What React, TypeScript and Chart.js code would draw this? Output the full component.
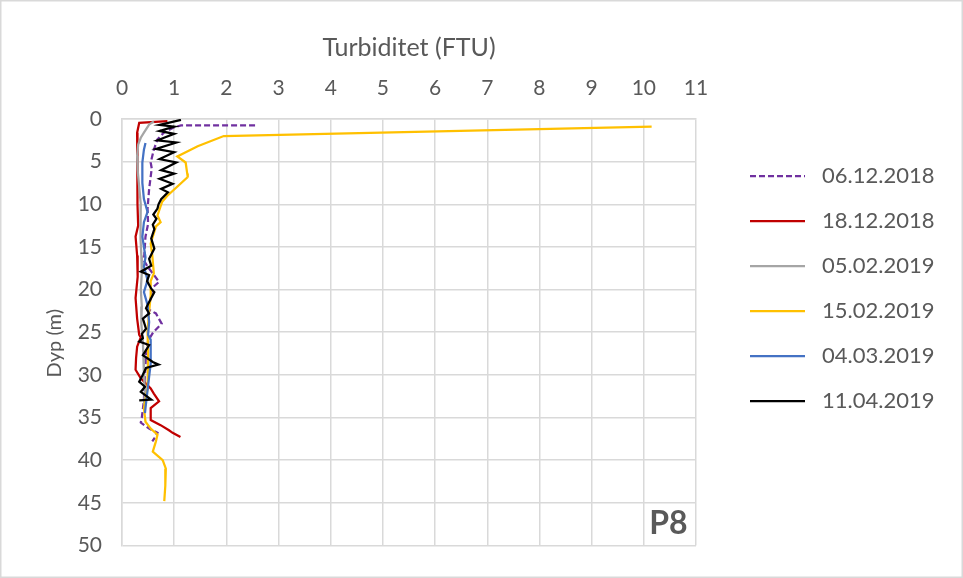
import { useEffect, useRef } from "react";
import { Chart, registerables } from "chart.js";

Chart.register(...registerables);

const FONT = "Lato, 'Open Sans', sans-serif";
const TEXT = "#595959";
const GRID = "#d9d9d9";

const xTitle = "Turbiditet (FTU)";
const yTitle = "Dyp (m)";
const stationLabel = "P8";

const seriesLabels = ["06.12.2018", "18.12.2018", "05.02.2019", "15.02.2019", "04.03.2019", "11.04.2019"];
const seriesColors = ["#7030a0", "#c00000", "#a5a5a5", "#ffc000", "#4472c4", "#000000"];

// 06.12.2018
const turb0612 = [2.55, 1.13, 0.97, 0.8, 0.68, 0.61, 0.55, 0.57, 0.52, 0.49, 0.5, 0.45, 0.42, 0.49, 0.71, 0.58, 0.55, 0.5, 0.65, 0.76, 0.6, 0.5, 0.46, 0.45, 0.43, 0.42, 0.38, 0.36, 0.52, 0.68, 0.65, 0.58];
const depth0612 = [0.75, 0.75, 1.05, 1.6, 2.4, 3.6, 5.1, 5.8, 8.2, 10.5, 12.3, 13.8, 16.6, 17.3, 19.1, 19.8, 21, 22.3, 22.8, 24, 25, 26, 27.5, 29, 31, 33, 35, 35.6, 36.3, 36.8, 37.2, 37.8];

// 18.12.2018
const turb1812 = [0.87, 0.33, 0.29, 0.29, 0.3, 0.3, 0.31, 0.26, 0.29, 0.3, 0.26, 0.29, 0.33, 0.36, 0.29, 0.27, 0.26, 0.36, 0.55, 0.61, 0.71, 0.55, 0.55, 0.74, 0.9, 0.97, 1.12];
const depth1812 = [0.25, 0.45, 1.6, 4, 7, 10, 12.5, 13.8, 16, 18.5, 21, 23.4, 25.3, 25.6, 26.7, 28, 29.4, 30.4, 31.6, 32.2, 33.1, 33.9, 35.3, 35.9, 36.5, 36.8, 37.3];

// 05.02.2019
const turb0502 = [0.61, 0.52, 0.42, 0.36, 0.31, 0.29, 0.3, 0.33, 0.36, 0.36, 0.35, 0.37, 0.38, 0.36, 0.38, 0.37, 0.4, 0.41, 0.42, 0.44, 0.42];
const depth0502 = [0.27, 0.66, 1.6, 2.2, 3, 4.3, 6, 8, 10, 12, 14, 16, 18, 20, 22, 24, 26, 28, 30, 32, 33.5];

// 15.02.2019
const turb1502 = [10.15, 1.95, 1.45, 1.06, 1.22, 1.25, 1.26, 0.87, 0.77, 0.68, 0.74, 0.65, 0.55, 0.58, 0.61, 0.55, 0.55, 0.52, 0.49, 0.5, 0.49, 0.42, 0.45, 0.55, 0.68, 0.65, 0.59, 0.78, 0.84, 0.83, 0.81];
const depth1502 = [0.9, 2.0, 3.2, 4.4, 5.1, 6.4, 6.8, 9, 9.7, 11.3, 12.1, 12.6, 14.6, 16, 18.1, 19, 20.7, 22.6, 24.9, 27.7, 31.6, 33.9, 35.5, 36.3, 37, 37.8, 39, 40, 41, 43, 44.8];

// 04.03.2019
const turb0403 = [0.45, 0.42, 0.39, 0.39, 0.42, 0.49, 0.42, 0.39, 0.45, 0.42, 0.49, 0.42, 0.49, 0.52, 0.5, 0.55, 0.55, 0.52, 0.49, 0.45, 0.44];
const depth0403 = [2.8, 3.6, 5.1, 7.5, 9.4, 10.9, 12.1, 13.8, 16.2, 17.3, 18.9, 20.3, 21.8, 23.8, 25.3, 25.9, 28.7, 30.2, 31.8, 33.9, 34.5];

// 11.04.2019
const turb1104 = [1.13, 0.72, 1.0, 0.72, 1.0, 0.68, 1.04, 0.65, 1.0, 0.72, 1.04, 0.75, 1.0, 0.72, 0.97, 0.75, 0.88, 0.75, 0.7, 0.68, 0.6, 0.66, 0.59, 0.62, 0.56, 0.62, 0.52, 0.56, 0.36, 0.52, 0.48, 0.56, 0.62, 0.56, 0.46, 0.52, 0.4, 0.46, 0.38, 0.4, 0.33, 0.52, 0.4, 0.59, 0.7, 0.46, 0.4, 0.33, 0.44, 0.36, 0.56, 0.33];
const depth1104 = [0.1, 0.7, 0.9, 1.4, 1.75, 2.5, 2.75, 3.5, 3.9, 4.7, 5.1, 6.0, 6.4, 7.0, 7.6, 8.2, 8.6, 9.4, 10.0, 10.5, 11.2, 11.7, 12.4, 12.9, 14.0, 15.2, 16.4, 17.2, 17.9, 18.3, 19.0, 19.9, 20.3, 21.0, 22.2, 22.8, 23.4, 24.6, 25.2, 25.7, 26.1, 26.5, 27.7, 28.5, 28.8, 29.2, 30.0, 30.8, 31.4, 32.0, 32.9, 33.0];

const seriesTurb = [turb0612, turb1812, turb0502, turb1502, turb0403, turb1104];
const seriesDepth = [depth0612, depth1812, depth0502, depth1502, depth0403, depth1104];

const xMin = 0;
const xMax = 11;
const xStep = 1;
const yMin = 0;
const yMax = 50;
const yStep = 5;

export default function App() {
  const ref = useRef<HTMLCanvasElement | null>(null);

  useEffect(() => {
    document.body.style.margin = "0";
    const canvas = ref.current;
    if (!canvas) return;

    const datasets = seriesLabels.map((label, i) => ({
      label,
      data: seriesTurb[i].map((t, j) => ({ x: t, y: seriesDepth[i][j] })),
      borderColor: seriesColors[i],
      backgroundColor: seriesColors[i],
      borderWidth: 2.25,
      borderDash: i === 0 ? [6, 3] : [],
      showLine: true,
      pointRadius: 0,
      pointHoverRadius: 0,
      tension: 0,
      order: seriesLabels.length - i,
    }));

    const frame = {
      id: "frame",
      beforeDraw(chart: any) {
        const { ctx, width, height } = chart;
        ctx.save();
        ctx.fillStyle = "#ffffff";
        ctx.fillRect(0, 0, width, height);
        ctx.strokeStyle = GRID;
        ctx.lineWidth = 1.5;
        ctx.strokeRect(0.75, 0.75, width - 1.5, height - 1.5);
        ctx.restore();
      },
    };

    const extras = {
      id: "extras",
      afterDraw(chart: any) {
        const { ctx, chartArea } = chart;
        ctx.save();
        // y-axis title
        ctx.fillStyle = TEXT;
        ctx.font = `20px ${FONT}`;
        ctx.textAlign = "center";
        ctx.textBaseline = "middle";
        ctx.translate(chartArea.left - 67, (chartArea.top + chartArea.bottom) / 2 + 11);
        ctx.rotate(-Math.PI / 2);
        ctx.fillText(yTitle, 0, 0);
        ctx.setTransform(1, 0, 0, 1, 0, 0);
        // legend
        const lx = chartArea.right + 54;
        const tx = chartArea.right + 126;
        seriesLabels.forEach((label, i) => {
          const y = chartArea.top + 57 + i * 45;
          ctx.strokeStyle = seriesColors[i];
          ctx.lineWidth = 2.25;
          ctx.setLineDash(i === 0 ? [6, 3] : []);
          ctx.beginPath();
          ctx.moveTo(lx, y);
          ctx.lineTo(lx + 55, y);
          ctx.stroke();
          ctx.setLineDash([]);
          ctx.fillStyle = TEXT;
          ctx.font = `22px ${FONT}`;
          ctx.textAlign = "left";
          ctx.textBaseline = "middle";
          ctx.fillText(label, tx, y);
        });
        // station label
        const xs = chart.scales.x;
        const ys = chart.scales.y;
        ctx.fillStyle = TEXT;
        ctx.font = `bold 32px ${FONT}`;
        ctx.textAlign = "center";
        ctx.textBaseline = "middle";
        ctx.fillText(stationLabel, xs.getPixelForValue(10.47), ys.getPixelForValue(47.5));
        ctx.restore();
      },
    };

    const chart = new Chart(canvas, {
      type: "scatter",
      data: { datasets },
      options: {
        animation: false,
        responsive: false,
        events: [],
        layout: { padding: { left: 35, top: 25, right: 267, bottom: 30 } },
        plugins: {
          legend: { display: false },
          tooltip: { enabled: false },
        },
        scales: {
          x: {
            type: "linear",
            position: "top",
            min: xMin,
            max: xMax,
            ticks: { stepSize: xStep, color: TEXT, font: { family: FONT, size: 21 }, padding: 18 },
            grid: { color: GRID, lineWidth: 1.5, drawTicks: false },
            border: { color: GRID, width: 1.5 },
            title: { display: true, text: xTitle, color: TEXT, font: { family: FONT, size: 25 }, padding: { top: 8, bottom: 0 } },
            afterFit: (s: any) => {
              s.height = 94;
            },
          },
          y: {
            type: "linear",
            reverse: true,
            min: yMin,
            max: yMax,
            ticks: { stepSize: yStep, color: TEXT, font: { family: FONT, size: 21 }, padding: 20 },
            grid: { color: GRID, lineWidth: 1.5, drawTicks: false },
            border: { color: GRID, width: 1.5 },
            title: { display: false },
            afterFit: (s: any) => {
              s.width = 87;
            },
          },
        },
      },
      plugins: [frame, extras],
    } as any);

    return () => chart.destroy();
  }, []);

  return <canvas ref={ref} width={963} height={578} style={{ display: "block" }} />;
}
